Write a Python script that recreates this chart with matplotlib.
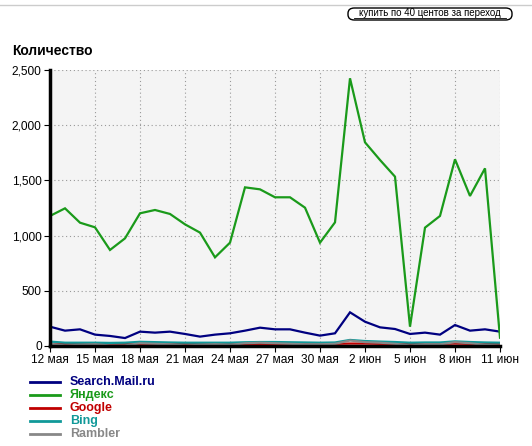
import matplotlib
matplotlib.use("Agg")
import matplotlib.pyplot as plt
from matplotlib.ticker import FuncFormatter
from matplotlib.patches import FancyBboxPatch
from matplotlib.lines import Line2D

# ── Data: 12 мая .. 11 июн (31 days) ─────────────────────────────
days = list(range(31))
tick_pos = [0, 3, 6, 9, 12, 15, 18, 21, 24, 27, 30]
tick_labels = ["12 мая", "15 мая", "18 мая", "21 мая", "24 мая", "27 мая",
               "30 мая", "2 июн", "5 июн", "8 июн", "11 июн"]

mail = [175, 139, 151, 103, 91, 72, 130, 121, 130, 109, 85, 103, 115, 139, 166,
        151, 151, 121, 94, 115, 305, 220, 169, 154, 109, 121, 103, 190, 139, 151, 130]
yandex = [1178, 1247, 1117, 1075, 870, 975, 1202, 1232, 1196, 1102, 1027, 803, 936,
          1437, 1419, 1347, 1347, 1253, 936, 1120, 2425, 1845, 1685, 1534, 175,
          1072, 1178, 1691, 1359, 1609, 75]
google = [20, 18, 18, 20, 18, 18, 20, 20, 20, 18, 18, 20, 20, 20, 20,
          20, 20, 20, 18, 20, 22, 22, 20, 20, 18, 20, 20, 22, 20, 18, 18]
bing = [40, 30, 30, 30, 28, 30, 38, 35, 32, 30, 30, 30, 30, 34, 36,
        36, 34, 32, 30, 32, 55, 45, 40, 36, 30, 32, 32, 42, 36, 32, 30]
rambler = [20, 5, 10, 15, 5, 5, 25, 20, 15, 5, 10, 15, 10, 25, 30,
           25, 20, 15, 15, 20, 50, 35, 30, 20, 5, 15, 15, 35, 25, 10, 5]

series = [
    ("Search.Mail.ru", mail, "#000080"),
    ("Яндекс", yandex, "#1a9a1a"),
    ("Google", google, "#c00000"),
    ("Bing", bing, "#119999"),
    ("Rambler", rambler, "#888888"),
]

plt.rcParams["font.family"] = ["Liberation Sans", "DejaVu Sans"]

fig = plt.figure(figsize=(5.32, 4.46), dpi=100)
W, H = 532, 446
ax = fig.add_axes([50 / W, 1 - 346 / H, 450 / W, 276 / H])
ax.set_facecolor("#f4f4f4")

for name, vals, col in series:
    ax.plot(days, vals, color=col, linewidth=1.6, solid_joinstyle="miter")

ax.set_xlim(0, 30)
ax.set_ylim(0, 2500)
ax.set_yticks([0, 500, 1000, 1500, 2000, 2500])
ax.yaxis.set_major_formatter(FuncFormatter(lambda v, _: f"{v:,.0f}"))
ax.set_xticks(tick_pos)
ax.set_xticklabels(tick_labels)
ax.tick_params(axis="both", labelsize=8.6, length=4, color="black", pad=2)
ax.grid(True, color="#999999", linestyle=(0, (1, 2.5)), linewidth=0.8)

for s in ["top", "right"]:
    ax.spines[s].set_visible(False)
for s in ["left", "bottom"]:
    ax.spines[s].set_linewidth(2.5)

# Title
fig.text(12 / W, 1 - 51 / H, "Количество", fontsize=10, fontweight="bold",
         va="center", ha="left")

# Top line and button
fig.add_artist(Line2D([0, 1], [1 - 5 / H, 1 - 5 / H], color="#cccccc", linewidth=1))
btn = FancyBboxPatch((348 / W, 1 - 20 / H), 164 / W, 12 / H,
                     boxstyle="round,pad=0,rounding_size=0.012",
                     transform=fig.transFigure, facecolor="white",
                     edgecolor="black", linewidth=1)
fig.add_artist(btn)
fig.text(430 / W, 1 - 13.5 / H, "купить по 40 центов за переход", fontsize=7,
         ha="center", va="center")
fig.add_artist(Line2D([354 / W, 506 / W], [1 - 18 / H, 1 - 18 / H],
                      color="black", linewidth=0.6))

# Legend
for i, (name, vals, col) in enumerate(series):
    y = 1 - (382 + 13 * i) / H
    fig.add_artist(Line2D([30 / W, 60 / W], [y, y], color=col, linewidth=2))
    fig.text(70 / W, y, name, color=col, fontsize=9, fontweight="bold",
             va="center", ha="left")

fig.savefig("out.png", dpi=100)
